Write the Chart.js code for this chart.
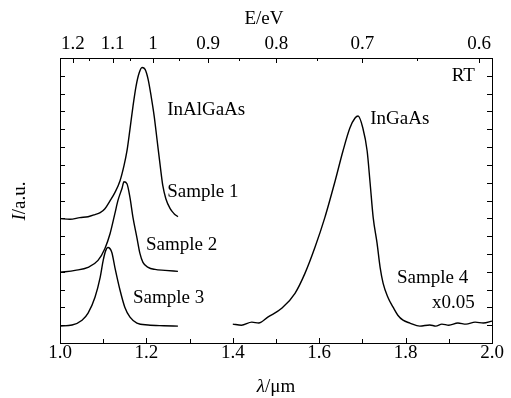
<!DOCTYPE html>
<html>
<head>
<meta charset="utf-8">
<script src="https://cdn.jsdelivr.net/npm/chart.js@4.4.1/dist/chart.umd.min.js"></script>
<style>
html, body { margin: 0; padding: 0; background: #fff; }
#wrap { width: 511px; height: 398px; }
</style>
</head>
<body>
<div id="wrap"><canvas id="chart"></canvas></div>
<script>
// wavelength (um) / intensity (a.u., stacked offsets)
const sample1Wl = [1.0, 1.023, 1.046, 1.065, 1.081, 1.093, 1.104, 1.116, 1.127, 1.139, 1.148, 1.155, 1.162, 1.169, 1.176, 1.183, 1.190, 1.197, 1.204, 1.211, 1.218, 1.225, 1.232, 1.238, 1.245, 1.255, 1.264, 1.273];
const sample1I = [6.98, 6.95, 7.04, 7.09, 7.21, 7.32, 7.54, 7.99, 8.44, 9.11, 9.94, 10.78, 12.01, 13.30, 14.41, 15.14, 15.47, 15.36, 14.80, 13.85, 12.74, 11.34, 9.94, 8.83, 8.10, 7.54, 7.26, 7.09];

const sample2Wl = [1.0, 1.035, 1.065, 1.088, 1.104, 1.116, 1.127, 1.134, 1.144, 1.148, 1.155, 1.162, 1.169, 1.178, 1.185, 1.192, 1.204, 1.220, 1.243, 1.273];
const sample2I = [3.97, 4.08, 4.25, 4.64, 5.31, 6.15, 7.26, 7.99, 8.72, 9.05, 8.94, 8.16, 7.04, 5.92, 5.03, 4.53, 4.25, 4.13, 4.08, 4.02];

const sample3Wl = [1.0, 1.028, 1.051, 1.065, 1.081, 1.093, 1.100, 1.106, 1.111, 1.120, 1.127, 1.139, 1.150, 1.162, 1.178, 1.204, 1.240, 1.273];
const sample3I = [0.95, 1.01, 1.28, 1.68, 2.57, 3.69, 4.64, 5.20, 5.36, 5.08, 4.25, 2.96, 2.01, 1.45, 1.12, 1.01, 0.97, 0.95];

const sample4Wl = [1.400, 1.420, 1.444, 1.460, 1.481, 1.514, 1.544, 1.567, 1.590, 1.613, 1.637, 1.655, 1.671, 1.683, 1.690, 1.701, 1.711, 1.718, 1.725, 1.734, 1.741, 1.748, 1.759, 1.771, 1.782, 1.794, 1.810, 1.833, 1.856, 1.870, 1.884, 1.900, 1.921, 1.940, 1.961, 1.980, 2.000];
const sample4I = [1.06, 1.00, 1.17, 1.12, 1.45, 1.96, 2.79, 3.91, 5.36, 7.04, 9.11, 10.78, 12.07, 12.63, 12.74, 12.07, 10.78, 8.94, 7.04, 5.59, 4.25, 3.35, 2.57, 2.01, 1.56, 1.28, 1.12, 0.95, 1.01, 0.95, 1.06, 1.00, 1.12, 1.06, 1.17, 1.12, 1.23];

// top axis: photon energy labels and the wavelength each one sits at
const energyLabels = ['1.2', '1.1', '1', '0.9', '0.8', '0.7', '0.6'];
const energyPos = [1.03, 1.122, 1.215, 1.343, 1.501, 1.70, 1.97];
const energyMinorPos = [1.067, 1.161, 1.276, 1.415, 1.594, 1.826];
const xMinor = [1.1, 1.3, 1.5, 1.7, 1.9];

const noteText = ['InAlGaAs', 'Sample 1', 'Sample 2', 'Sample 3', 'InGaAs', 'Sample 4', 'x0.05', 'RT'];
const noteX = [1.248, 1.248, 1.199, 1.169, 1.718, 1.78, 1.861, 1.907];
const noteY = [13.1, 8.5, 5.5, 2.5, 12.6, 3.63, 2.23, 14.97];

const FONT = '"Liberation Serif", "Times New Roman", serif';

function pts(xs, ys) {
    return xs.map((x, i) => ({ x: x, y: ys[i] }));
}

function line(xs, ys) {
    return {
        data: pts(xs, ys),
        borderColor: '#000',
        borderWidth: 1.4,
        pointRadius: 0,
        cubicInterpolationMode: 'monotone',
        fill: false
    };
}

// inward tick marks on all four sides, plus text labels
const decorations = {
    id: 'decorations',
    afterDraw(chart) {
        const ctx = chart.ctx;
        const a = chart.chartArea;
        const sx = chart.scales.x, sy = chart.scales.y;
        ctx.save();
        ctx.strokeStyle = '#000';
        ctx.lineWidth = 1;
        ctx.beginPath();
        sx.ticks.forEach(t => {
            const px = Math.round(sx.getPixelForValue(t.value)) + 0.5;
            ctx.moveTo(px, a.bottom); ctx.lineTo(px, a.bottom - 5);
        });
        xMinor.forEach(v => {
            const px = Math.round(sx.getPixelForValue(v)) + 0.5;
            ctx.moveTo(px, a.bottom); ctx.lineTo(px, a.bottom - 4);
        });
        energyPos.forEach(v => {
            const px = Math.round(sx.getPixelForValue(v)) + 0.5;
            ctx.moveTo(px, a.top); ctx.lineTo(px, a.top + 5);
        });
        energyMinorPos.forEach(v => {
            const px = Math.round(sx.getPixelForValue(v)) + 0.5;
            ctx.moveTo(px, a.top); ctx.lineTo(px, a.top + 3);
        });
        sy.ticks.forEach(t => {
            const py = Math.round(sy.getPixelForValue(t.value)) + 0.5;
            ctx.moveTo(a.left, py); ctx.lineTo(a.left + 5, py);
            ctx.moveTo(a.right, py); ctx.lineTo(a.right - 5, py);
        });
        ctx.stroke();

        ctx.fillStyle = '#000';
        ctx.textBaseline = 'middle';
        ctx.textAlign = 'left';
        ctx.font = '19px ' + FONT;
        noteText.forEach((s, i) => {
            ctx.fillText(s, sx.getPixelForValue(noteX[i]), sy.getPixelForValue(noteY[i]));
        });

        // axis titles with italic symbols
        function mixed(parts, cx, cy) {
            let w = 0;
            parts.forEach(p => { ctx.font = p[1] + '19px ' + FONT; w += ctx.measureText(p[0]).width; });
            let x0 = cx - w / 2;
            parts.forEach(p => {
                ctx.font = p[1] + '19px ' + FONT;
                ctx.fillText(p[0], x0, cy);
                x0 += ctx.measureText(p[0]).width;
            });
        }
        mixed([['E/eV', '']], 264, 19);
        mixed([['\u03bb', 'italic '], ['/\u03bcm', '']], 276, 387);
        ctx.translate(20, 201);
        ctx.rotate(-Math.PI / 2);
        mixed([['I', 'italic '], ['/a.u.', '']], 0, 0);
        ctx.restore();
    }
};

const tickFont = { family: FONT, size: 19, lineHeight: 1 };

new Chart(document.getElementById('chart'), {
    type: 'line',
    data: {
        datasets: [
            line(sample1Wl, sample1I),
            line(sample2Wl, sample2I),
            line(sample3Wl, sample3I),
            line(sample4Wl, sample4I)
        ]
    },
    options: {
        responsive: true,
        maintainAspectRatio: false,
        animation: false,
        devicePixelRatio: 1,
        layout: { padding: 0 },
        plugins: { legend: { display: false }, tooltip: { enabled: false } },
        scales: {
            x: {
                type: 'linear', position: 'bottom', min: 1, max: 2,
                afterFit(s) { s.height = 55; },
                grid: { display: false, drawTicks: false },
                border: { display: true, color: '#000', width: 1 },
                ticks: { stepSize: 0.2, color: '#000', font: tickFont, padding: 1, maxRotation: 0,
                    callback: v => v.toFixed(1) }
            },
            x2: {
                type: 'linear', position: 'top', min: 1, max: 2,
                afterFit(s) { s.height = 58; },
                afterBuildTicks(s) { s.ticks = energyPos.map(v => ({ value: v })); },
                grid: { display: false, drawTicks: false },
                border: { display: true, color: '#000', width: 1 },
                ticks: { autoSkip: false, color: '#000', font: tickFont, padding: 4, maxRotation: 0,
                    callback: (v, i) => energyLabels[i] }
            },
            y: {
                type: 'linear', position: 'left', min: 0, max: 16,
                afterFit(s) { s.width = 60; },
                grid: { display: false, drawTicks: false },
                border: { display: true, color: '#000', width: 1 },
                ticks: { display: false, stepSize: 1 }
            },
            y2: {
                type: 'linear', position: 'right', min: 0, max: 16,
                afterFit(s) { s.width = 19; },
                grid: { display: false, drawTicks: false },
                border: { display: true, color: '#000', width: 1 },
                ticks: { display: false, stepSize: 1 }
            }
        }
    },
    plugins: [decorations]
});
</script>
</body>
</html>
